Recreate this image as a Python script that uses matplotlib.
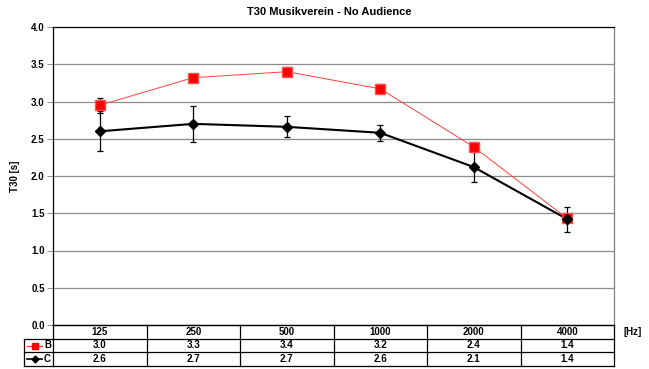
import numpy as np
import matplotlib
matplotlib.use("Agg")
import matplotlib.pyplot as plt
from matplotlib.lines import Line2D

plt.rcParams['font.family'] = ['Liberation Sans', 'DejaVu Sans']

freqs = ["125", "250", "500", "1000", "2000", "4000"]
b_vals = [2.95, 3.32, 3.40, 3.17, 2.39, 1.43]
b_err = [0.10, 0.04, 0.06, 0.06, 0.04, 0.05]
c_vals = [2.60, 2.70, 2.66, 2.58, 2.12, 1.42]
c_err = [0.27, 0.24, 0.14, 0.11, 0.20, 0.17]
y_ticks = [0.0, 0.5, 1.0, 1.5, 2.0, 2.5, 3.0, 3.5, 4.0]

W, H = 649, 369
fig = plt.figure(figsize=(W / 100, H / 100), dpi=100)


def fx(px):
    return px / W


def fy(py):
    return 1 - py / H


left, right, top, bottom = 53, 614, 27, 325
ax = fig.add_axes([fx(left), fy(bottom), fx(right) - fx(left), fy(top) - fy(bottom)])

n = len(freqs)
x = np.arange(n) + 0.5
ax.set_xlim(0, n)
ax.set_ylim(0, 4.0)
ax.set_yticks(y_ticks)
ax.set_yticklabels([f"{v:.1f}" for v in y_ticks], fontsize=7, fontweight='bold')
ax.set_xticks([])
ax.tick_params(axis='y', length=4, width=0.6, color='#808080', pad=2)
for yv in y_ticks[1:-1]:
    ax.axhline(yv, color='#8c8c8c', lw=0.9, zorder=0)

for s in ['left', 'bottom', 'top']:
    ax.spines[s].set_color('black')
    ax.spines[s].set_linewidth(0.9)
ax.spines['right'].set_color('#808080')
ax.spines['right'].set_linewidth(0.9)

ax.errorbar(x, c_vals, yerr=c_err, color='black', lw=1.5, marker='D',
            markersize=5.5, ecolor='black', elinewidth=0.9, capsize=2,
            capthick=0.9, zorder=3)
ax.errorbar(x, b_vals, yerr=b_err, fmt='none', ecolor='black',
            elinewidth=0.9, capsize=2, capthick=0.9, zorder=4)
ax.plot(x, b_vals, color='#ff4040', lw=0.7, marker='s', markersize=6.5,
        markerfacecolor='#ff0000', markeredgecolor='#ff5050', zorder=5)
# diamond at the last point sits on top of the square there
ax.plot(x[-1:], c_vals[-1:], 'D', color='black', markersize=5.5, zorder=6)

ax.set_ylabel("T30 [s]", fontsize=7, fontweight='bold', labelpad=8)
fig.text(fx(329), fy(12), "T30 Musikverein - No Audience", ha='center',
         va='center', fontsize=8, fontweight='bold')

# data table under the plot
tab_left = 24
row_y = [325, 339, 352, 366]
col_w = (right - left) / n
tl = dict(transform=fig.transFigure, color='black', lw=0.9)
# horizontal rules
fig.add_artist(Line2D([fx(left), fx(right)], [fy(row_y[0])] * 2, **tl))
for ry in row_y[1:]:
    fig.add_artist(Line2D([fx(tab_left), fx(right)], [fy(ry)] * 2, **tl))
# vertical rules
fig.add_artist(Line2D([fx(tab_left)] * 2, [fy(row_y[1]), fy(row_y[3])], **tl))
for i in range(n + 1):
    xx = left + i * col_w
    fig.add_artist(Line2D([fx(xx)] * 2, [fy(row_y[0]), fy(row_y[3])], **tl))

for i, f in enumerate(freqs):
    cx = left + (i + 0.5) * col_w
    fig.text(fx(cx), fy((row_y[0] + row_y[1]) / 2), f, ha='center', va='center',
             fontsize=7, fontweight='bold')
    fig.text(fx(cx), fy((row_y[1] + row_y[2]) / 2), f"{b_vals[i]:.1f}",
             ha='center', va='center', fontsize=7, fontweight='bold')
    fig.text(fx(cx), fy((row_y[2] + row_y[3]) / 2), f"{c_vals[i]:.1f}",
             ha='center', va='center', fontsize=7, fontweight='bold')

fig.text(fx(623), fy(332), "[Hz]", ha='left', va='center', fontsize=7,
         fontweight='bold')

# legend keys in the row headers
yb = fy((row_y[1] + row_y[2]) / 2)
yc = fy((row_y[2] + row_y[3]) / 2)
fig.add_artist(Line2D([fx(27), fx(42)], [yb, yb], transform=fig.transFigure,
                      color='#ff4040', lw=0.9))
fig.add_artist(Line2D([fx(34.5)], [yb], transform=fig.transFigure, color='#ff0000',
                      marker='s', markersize=4.5, lw=0))
fig.add_artist(Line2D([fx(27), fx(42)], [yc, yc], transform=fig.transFigure,
                      color='black', lw=1.2))
fig.add_artist(Line2D([fx(34.5)], [yc], transform=fig.transFigure, color='black',
                      marker='D', markersize=3.5, lw=0))
fig.text(fx(44), yb, "B", ha='left', va='center', fontsize=7, fontweight='bold')
fig.text(fx(44), yc, "C", ha='left', va='center', fontsize=7, fontweight='bold')

fig.savefig("out.png", dpi=100)
